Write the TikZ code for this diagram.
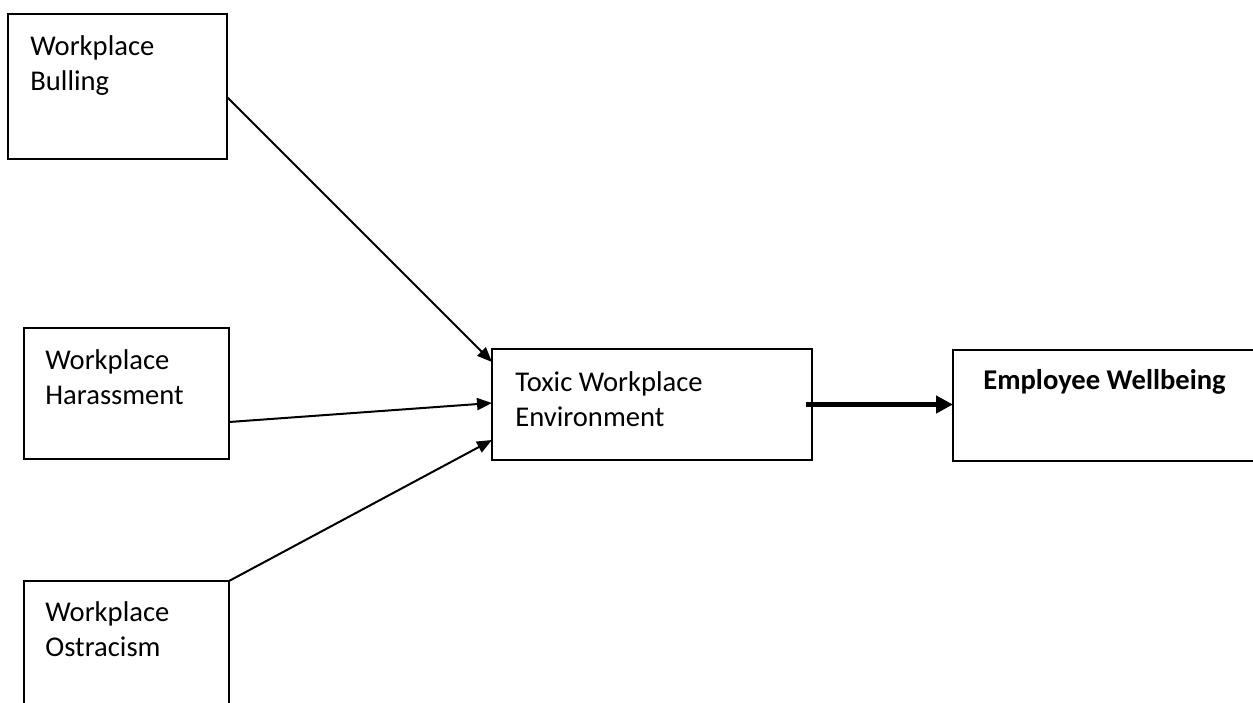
\documentclass[tikz,border=0pt]{standalone}
\usepackage{fontspec}
\setmainfont{Carlito}
\usetikzlibrary{arrows.meta}
\tikzset{
  box/.style={draw, line width=0.75pt, inner sep=0pt, outer sep=0pt, anchor=north west},
  boxtext/.style={anchor=base west, align=left, inner sep=0pt, font=\fontsize{14.3}{17.5}\selectfont},
  link/.style={line width=1pt, -{Triangle[length=7.5pt, width=6pt]}},
  mainlink/.style={line width=2.5pt, -{Triangle[length=8.5pt, width=8.5pt]}}
}
\begin{document}
\begin{tikzpicture}[x=0.5pt, y=-0.5pt]
    \clip (0, 0) rectangle (1253, 702);
    % boxes
    \node[box, minimum width=109.5pt, minimum height=72.5pt] (bulling) at (8, 14) {};
    \node[box, minimum width=102.5pt, minimum height=65.5pt] (harass) at (24, 328) {};
    \node[box, minimum width=102.5pt, minimum height=89.5pt] (ostra) at (24, 581) {};
    \node[box, minimum width=160pt, minimum height=55.5pt] (toxic) at (492, 349) {};
    \node[box, minimum width=173.5pt, minimum height=55.5pt] (wellbeing) at (953, 350) {};
    % texts (base = last line)
    \node[boxtext] (bullingtext) at ([xshift=11pt, yshift=-38pt]bulling.north west) {Workplace\\Bulling};
    \node[boxtext] (harasstext) at ([xshift=10.5pt, yshift=-38pt]harass.north west) {Workplace\\Harassment};
    \node[boxtext] (ostratext) at ([xshift=10.5pt, yshift=-37.5pt]ostra.north west) {Workplace\\Ostracism};
    \node[boxtext] (toxictext) at ([xshift=11.5pt, yshift=-38.5pt]toxic.north west) {Toxic Workplace\\Environment};
    \node[boxtext, font=\fontsize{14.3}{17.5}\selectfont\bfseries] (wellbeingtext) at ([xshift=15pt, yshift=-19.5pt]wellbeing.north west) {Employee Wellbeing};
    % arrows
    \draw[link] ([yshift=-5.25pt]bulling.east) -- ([yshift=21.25pt]toxic.west);
    \draw[link] ([yshift=-14.25pt]harass.east) -- ([yshift=0.75pt]toxic.west);
    \draw[link] (ostra.north east) -- ([yshift=-17.75pt]toxic.west);
    \draw[mainlink] ([xshift=-3pt]toxic.east) -- (toxic.east -| wellbeing.west);
\end{tikzpicture}
\end{document}
